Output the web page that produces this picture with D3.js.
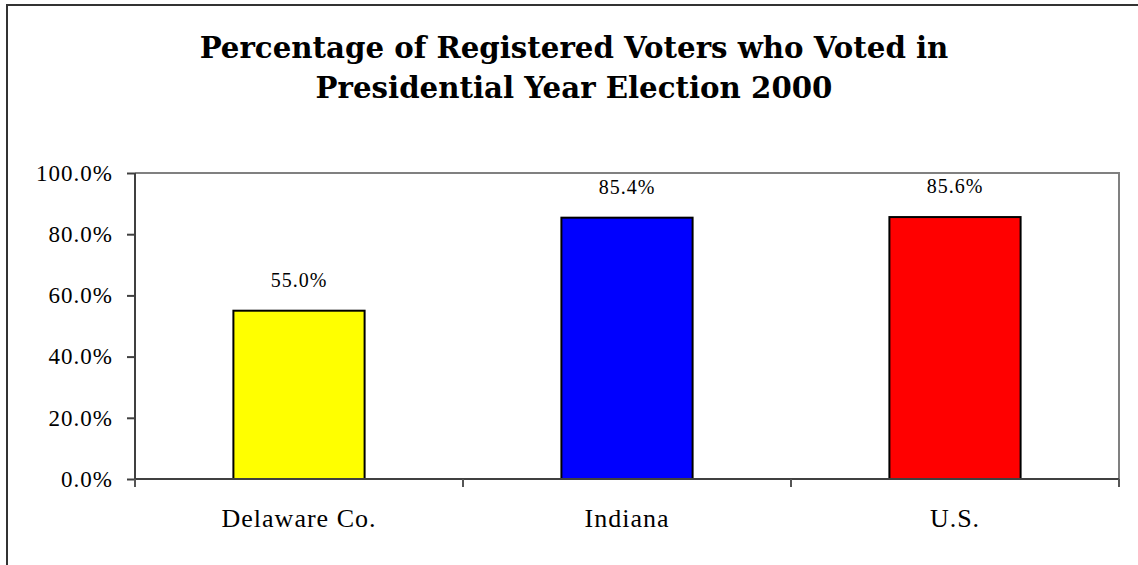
<!DOCTYPE html>
<html><head><meta charset="utf-8">
<script src="https://cdn.jsdelivr.net/npm/d3@7"></script>
<style>
html,body{margin:0;padding:0;background:#fff;overflow:hidden;}
svg{display:block;}
</style></head>
<body>
<svg id="chart" width="1138" height="565"></svg>
<script>
const categories = ["Delaware Co.", "Indiana", "U.S."];
const values = [55.0, 85.4, 85.6];
const colors = ["#FFFF00", "#0000FF", "#FF0000"];
const yTicks = [0, 20, 40, 60, 80, 100];
const titleLines = ["Percentage of Registered Voters who Voted in", "Presidential Year Election 2000"];

const svg = d3.select("#chart");
const W = 1138, H = 565;
const plot = {left: 135, right: 1119, top: 173, bottom: 479};

// outer frame: only left and top edges are visible in the picture
svg.append("path").attr("d", `M7,${H}V5H${W}`)
  .attr("fill", "none").attr("stroke", "#333").attr("stroke-width", 2);

// title
const serifBold = "'DejaVu Serif', serif";
const t = svg.append("g").attr("font-family", serifBold).attr("font-weight", "bold").attr("fill", "#000");
const tl = t.selectAll("text").data(titleLines).join("text")
  .attr("x", 574).attr("y", (d, i) => 58 + i * 40)
  .attr("text-anchor", "middle").attr("font-size", 24).text(d => d);
const len0 = tl.nodes()[0].getComputedTextLength();
tl.attr("font-size", 24 * 749 / len0);

const x = d3.scaleBand().domain(categories).range([plot.left, plot.right]).paddingInner(0.6).paddingOuter(0.3);
const band = d3.scaleBand().domain(categories).range([plot.left, plot.right]);
const y = d3.scaleLinear().domain([0, 100]).range([plot.bottom, plot.top]);

// plot area border (top & right gray)
svg.append("path")
  .attr("d", `M${plot.left},${plot.top}H${plot.right}V${plot.bottom}`)
  .attr("fill", "none").attr("stroke", "#808080").attr("stroke-width", 2);

// bars
svg.append("g").selectAll("rect").data(values).join("rect")
  .attr("x", (d, i) => x(categories[i]))
  .attr("y", d => y(d))
  .attr("width", x.bandwidth())
  .attr("height", d => y(0) - y(d))
  .attr("fill", (d, i) => colors[i])
  .attr("stroke", "#000").attr("stroke-width", 2);

const serif = "'Liberation Serif', 'Times New Roman', serif";

// y axis
const yAxis = svg.append("g").attr("transform", `translate(${plot.left},0)`)
  .call(d3.axisLeft(y).tickValues(yTicks).tickSize(8).tickPadding(14).tickFormat(d => d3.format(".1f")(d) + "%"));
yAxis.select(".domain").attr("stroke", "#404040").attr("stroke-width", 2)
  .attr("d", `M0,${plot.top}V${plot.bottom + 8}`);
yAxis.selectAll(".tick line").attr("stroke", "#404040").attr("stroke-width", 2);
yAxis.selectAll(".tick text").attr("font-family", serif).attr("font-size", 23)
  .attr("letter-spacing", "1px").attr("fill", "#000");

// x axis
const xAxis = svg.append("g").attr("transform", `translate(0,${plot.bottom})`)
  .call(d3.axisBottom(band).tickSize(0).tickPadding(30));
xAxis.select(".domain").attr("stroke", "#404040").attr("stroke-width", 2)
  .attr("d", `M${plot.left},0H${plot.right}`);
xAxis.selectAll(".tick text").attr("font-family", serif).attr("font-size", 26)
  .attr("letter-spacing", "1px").attr("fill", "#000");
// category boundary ticks
const bounds = categories.map(c => band(c)).concat([band(categories[categories.length - 1]) + band.bandwidth()]);
xAxis.append("g").selectAll("line").data(bounds).join("line")
  .attr("x1", d => d).attr("x2", d => d).attr("y1", 0).attr("y2", 8)
  .attr("stroke", "#555").attr("stroke-width", 2);

// value labels
svg.append("g").selectAll("text").data(values).join("text")
  .attr("x", (d, i) => x(categories[i]) + x.bandwidth() / 2)
  .attr("y", d => y(d) - 24)
  .attr("text-anchor", "middle").attr("font-family", serif).attr("font-size", 20)
  .attr("letter-spacing", "1px").attr("fill", "#000")
  .text(d => d3.format(".1f")(d) + "%");
</script>
</body></html>
